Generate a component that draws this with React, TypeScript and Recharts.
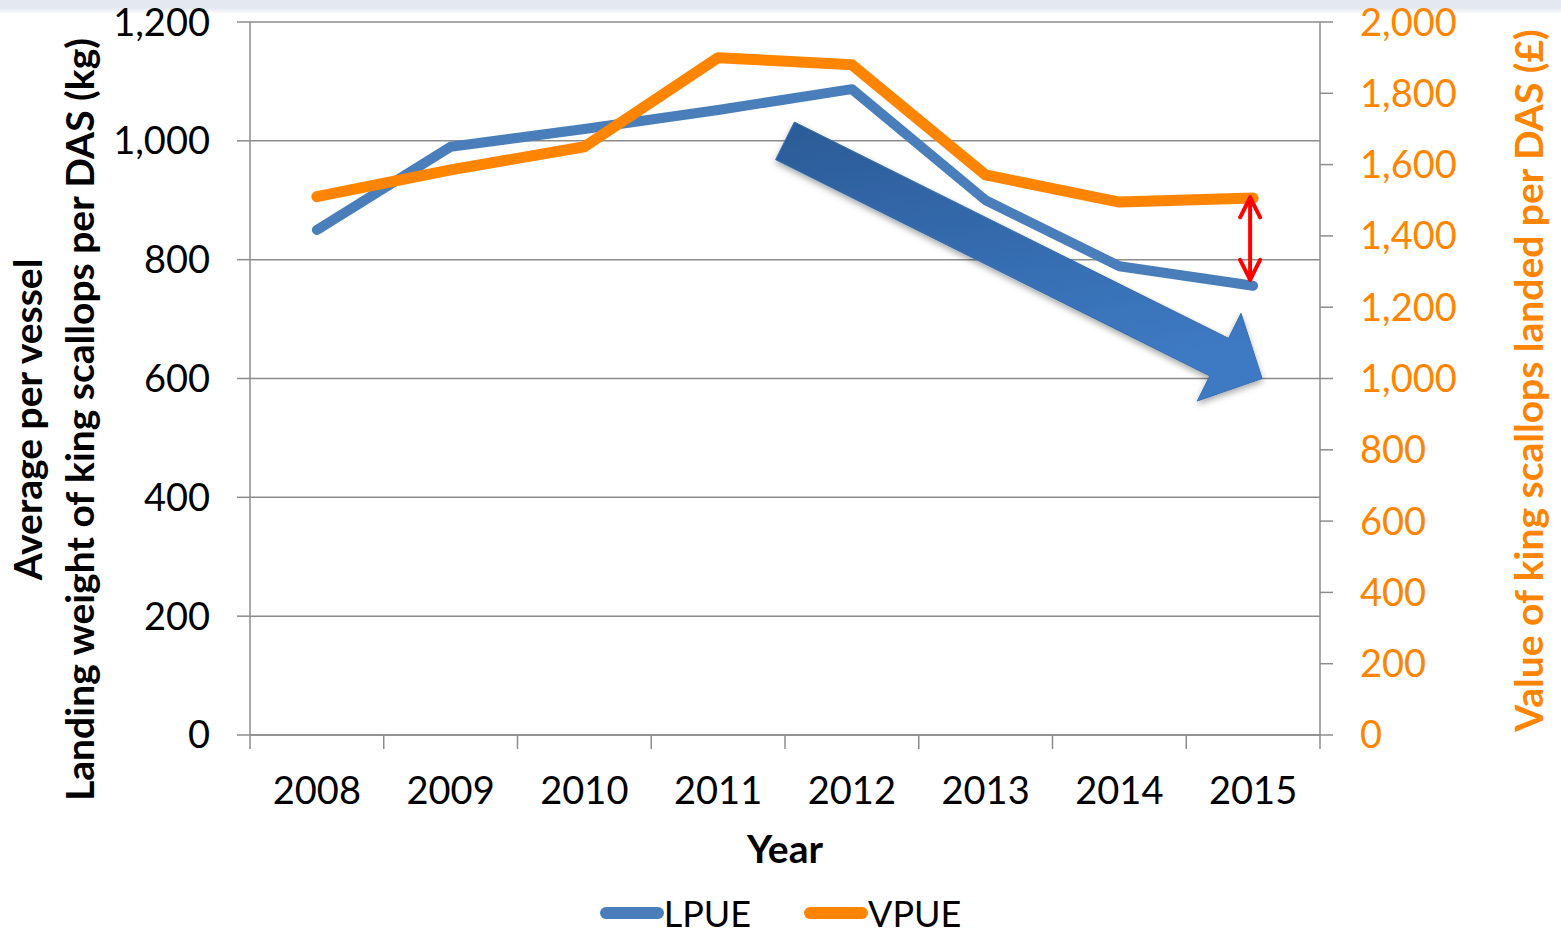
import React from 'react';
import { ComposedChart, Line, XAxis, YAxis, CartesianGrid, Legend, ReferenceLine } from 'recharts';

const years = ['2008', '2009', '2010', '2011', '2012', '2013', '2014', '2015'];
const lpue = [850, 990, 1020, 1052, 1087, 900, 789, 756];
const vpue = [1510, 1585, 1650, 1900, 1880, 1571, 1495, 1506];
const leftTicks = [0, 200, 400, 600, 800, 1000, 1200];
const rightTicks = [0, 200, 400, 600, 800, 1000, 1200, 1400, 1600, 1800, 2000];
const bandEdges = [0, 1, 2, 3, 4, 5, 6, 7, 8];
const trendArrow = [{ x: '2012', y: 1000 }, { x: '2015', y: 600 }];
const gapArrow = [{ x: '2015', y: 905 }, { x: '2015', y: 766 }];

const BLUE = '#4a7ebb';
const ORANGE = '#ff8400';
const GRID = '#8c8c8c';
const FONT = 'Lato, "Open Sans", sans-serif';

const data = years.map((year, i) => ({ year, pos: i + 0.5, LPUE: lpue[i], VPUE: vpue[i] }));
const seriesInfo = [
  { name: 'LPUE', color: BLUE },
  { name: 'VPUE', color: ORANGE },
];

const fmt = (v: number) => v.toLocaleString('en-US');

const LeftTitle = (props: any) => {
  const vb = props.viewBox;
  const cy = vb.y + vb.height / 2 + 41;
  const x1 = vb.x + 42;
  const x2 = vb.x + 94;
  return (
    <g fontFamily={FONT} fontWeight={700} fontSize={39} fill="#000">
      <text x={x1} y={cy} textAnchor="middle" transform={`rotate(-90, ${x1}, ${cy})`}>Average per vessel</text>
      <text x={x2} y={cy} textAnchor="middle" transform={`rotate(-90, ${x2}, ${cy})`}>Landing weight of king scallops per DAS (kg)</text>
    </g>
  );
};

const RightTitle = (props: any) => {
  const vb = props.viewBox;
  const cy = vb.y + vb.height / 2 + 2;
  const x = vb.x + 223;
  return (
    <text x={x} y={cy} textAnchor="middle" transform={`rotate(-90, ${x}, ${cy})`} fontFamily={FONT} fontWeight={700} fontSize={39} fill={ORANGE}>
      Value of king scallops landed per DAS (£)
    </text>
  );
};

const XTitle = (props: any) => {
  const vb = props.viewBox;
  return (
    <text x={vb.x + vb.width / 2} y={vb.y + 114} textAnchor="middle" fontFamily={FONT} fontWeight={700} fontSize={39} fill="#000">
      Year
    </text>
  );
};

const TrendArrow = (p: any) => {
  const { x1, y1, x2, y2 } = p;
  if ([x1, y1, x2, y2].some((v) => typeof v !== 'number' || isNaN(v))) return null;
  const tx = x1 - (x2 - x1) / 6;
  const ty = y1;
  const hx = x2 + 9;
  const hy = y2;
  const dx = hx - tx;
  const dy = hy - ty;
  const len = Math.hypot(dx, dy);
  const ux = dx / len, uy = dy / len;
  const nx = -uy, ny = ux;
  const hw = 21, headLen = 48, headW = 49;
  const bx = hx - ux * headLen, by = hy - uy * headLen;
  const pts = [
    [tx - nx * hw, ty - ny * hw],
    [bx - nx * hw, by - ny * hw],
    [bx - nx * headW, by - ny * headW],
    [hx, hy],
    [bx + nx * headW, by + ny * headW],
    [bx + nx * hw, by + ny * hw],
    [tx + nx * hw, ty + ny * hw],
  ];
  return (
    <g>
      <defs>
        <linearGradient id="arrowGrad" x1="0" y1="0" x2="0.3" y2="1">
          <stop offset="0%" stopColor="#2b5b97" />
          <stop offset="100%" stopColor="#3d7ac3" />
        </linearGradient>
        <filter id="arrowShadow" x="-20%" y="-20%" width="140%" height="140%">
          <feDropShadow dx="0" dy="3" stdDeviation="3" floodColor="#000" floodOpacity="0.35" />
        </filter>
      </defs>
      <polygon points={pts.map((q) => q.join(',')).join(' ')} fill="url(#arrowGrad)" stroke="#3a6fae" strokeWidth={1} filter="url(#arrowShadow)" />
    </g>
  );
};

const GapArrow = (p: any) => {
  const { x1, y1, y2 } = p;
  if ([x1, y1, y2].some((v) => typeof v !== 'number' || isNaN(v))) return null;
  const x = x1 - 3;
  const d = `M${x},${y1} L${x},${y2} M${x - 10},${y1 + 20} L${x},${y1} L${x + 10},${y1 + 20} M${x - 10},${y2 - 20} L${x},${y2} L${x + 10},${y2 - 20}`;
  return <path d={d} fill="none" stroke="#ff0000" strokeWidth={4} strokeLinecap="round" strokeLinejoin="round" />;
};

const renderLegend = () => (
  <div style={{ display: 'flex', justifyContent: 'center', alignItems: 'center', height: 40, fontFamily: FONT, fontSize: 36, color: '#000' }}>
    {seriesInfo.map((s, i) => (
      <div key={s.name} style={{ display: 'flex', alignItems: 'center', marginLeft: i === 0 ? 0 : 53 }}>
        <svg width={64} height={14} style={{ display: 'block' }}>
          <line x1={6} y1={7} x2={58} y2={7} stroke={s.color} strokeWidth={12} strokeLinecap="round" />
        </svg>
        <span style={{ lineHeight: '40px' }}>{s.name}</span>
      </div>
    ))}
  </div>
);

const NoTick = () => <g />;

export default function App() {
  return (
    <div style={{ position: 'absolute', left: 0, top: 0, width: 1561, height: 933, background: '#fff' }}>
      <div style={{ position: 'absolute', left: 0, top: 0, width: 1561, height: 14, background: 'linear-gradient(#e4e9f1 0px, #e4e9f1 8px, #ffffff 14px)' }} />
      <div style={{ position: 'absolute', left: 0, top: 0 }}>
        <ComposedChart width={1561} height={933} data={data} margin={{ top: 22, right: 0, left: 0, bottom: 0 }}>
          <CartesianGrid xAxisId="zCat" yAxisId="left" vertical={false} stroke={GRID} strokeWidth={1.5} />
          <XAxis
            xAxisId="zCat"
            dataKey="year"
            scale="band"
            axisLine={false}
            tickLine={false}
            tickSize={0}
            tickMargin={28}
            height={144}
            interval={0}
            tick={{ fontSize: 38, fill: '#000', fontFamily: FONT }}
            label={<XTitle />}
          />
          <XAxis
            xAxisId="aEdges"
            dataKey="pos"
            type="number"
            domain={[0, 8]}
            ticks={bandEdges}
            allowDataOverflow
            tick={NoTick}
            tickSize={14}
            height={14}
            axisLine={{ stroke: GRID, strokeWidth: 1.5 }}
            tickLine={{ stroke: GRID, strokeWidth: 1.5 }}
          />
          <YAxis
            yAxisId="left"
            domain={[0, 1200]}
            ticks={leftTicks}
            width={250}
            tickSize={13}
            tickMargin={27}
            tickFormatter={fmt}
            axisLine={{ stroke: GRID, strokeWidth: 1.5 }}
            tickLine={{ stroke: GRID, strokeWidth: 1.5 }}
            tick={{ fontSize: 38, fill: '#000', fontFamily: FONT }}
            label={<LeftTitle />}
          />
          <YAxis
            yAxisId="right"
            orientation="right"
            domain={[0, 2000]}
            ticks={rightTicks}
            width={241}
            tickSize={13}
            tickMargin={27}
            tickFormatter={fmt}
            axisLine={{ stroke: GRID, strokeWidth: 1.5 }}
            tickLine={{ stroke: GRID, strokeWidth: 1.5 }}
            tick={{ fontSize: 38, fill: ORANGE, fontFamily: FONT }}
            label={<RightTitle />}
          />
          <Line xAxisId="zCat" yAxisId="left" dataKey="LPUE" stroke={BLUE} strokeWidth={10} strokeLinecap="round" strokeLinejoin="round" dot={false} activeDot={false} isAnimationActive={false} />
          <Line xAxisId="zCat" yAxisId="right" dataKey="VPUE" stroke={ORANGE} strokeWidth={11} strokeLinecap="round" strokeLinejoin="round" dot={false} activeDot={false} isAnimationActive={false} />
          <ReferenceLine xAxisId="zCat" yAxisId="left" segment={trendArrow} shape={TrendArrow} ifOverflow="visible" />
          <ReferenceLine xAxisId="zCat" yAxisId="left" segment={gapArrow} shape={GapArrow} ifOverflow="visible" />
          <Legend verticalAlign="bottom" align="center" height={40} content={renderLegend} wrapperStyle={{ width: 1561, left: 0, height: 40 }} />
        </ComposedChart>
      </div>
    </div>
  );
}
